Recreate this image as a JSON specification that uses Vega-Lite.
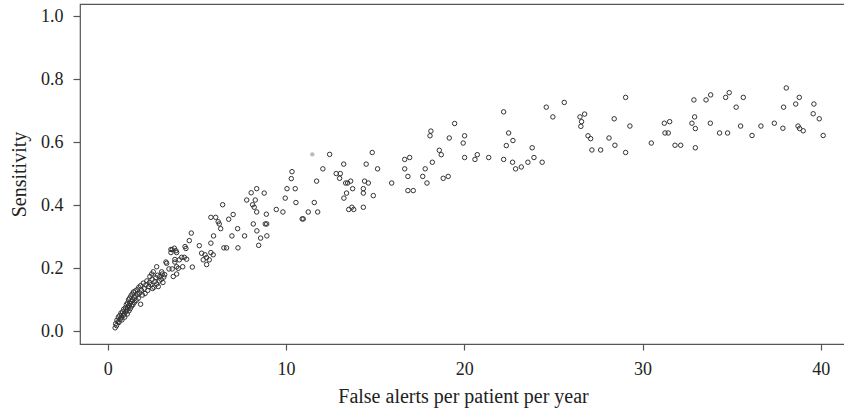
{
  "$schema": "https://vega.github.io/schema/vega-lite/v6.json",
  "width": 766,
  "height": 340,
  "autosize": {"type": "none"},
  "padding": {"left": 80, "top": 4, "right": 0, "bottom": 65},
  "background": "white",
  "config": {"view": {"stroke": "#555", "strokeWidth": 1.2}, "font": "Liberation Serif"},
  "data": {"values": [
    {"x":0.42,"y":0.011,"g":"a"},{"x":0.45,"y":0.024,"g":"a"},{"x":0.5,"y":0.018,"g":"a"},{"x":0.52,"y":0.035,"g":"a"},{"x":0.58,"y":0.03,"g":"a"},{"x":0.6,"y":0.045,"g":"a"},{"x":0.63,"y":0.028,"g":"a"},{"x":0.68,"y":0.05,"g":"a"},{"x":0.7,"y":0.038,"g":"a"},{"x":0.75,"y":0.058,"g":"a"},{"x":0.77,"y":0.044,"g":"a"},{"x":0.8,"y":0.036,"g":"a"},{"x":0.84,"y":0.062,"g":"a"},{"x":0.87,"y":0.05,"g":"a"},{"x":0.9,"y":0.07,"g":"a"},{"x":0.93,"y":0.055,"g":"a"},{"x":0.96,"y":0.045,"g":"a"},{"x":1.0,"y":0.075,"g":"a"},{"x":1.02,"y":0.062,"g":"a"},{"x":1.05,"y":0.085,"g":"a"},{"x":1.07,"y":0.068,"g":"a"},{"x":1.1,"y":0.055,"g":"a"},{"x":1.12,"y":0.09,"g":"a"},{"x":1.14,"y":0.075,"g":"a"},{"x":1.17,"y":0.1,"g":"a"},{"x":1.19,"y":0.082,"g":"a"},{"x":1.2,"y":0.065,"g":"a"},{"x":1.23,"y":0.105,"g":"a"},{"x":1.25,"y":0.088,"g":"a"},{"x":1.27,"y":0.072,"g":"a"},{"x":1.3,"y":0.112,"g":"a"},{"x":1.32,"y":0.095,"g":"a"},{"x":1.35,"y":0.08,"g":"a"},{"x":1.37,"y":0.118,"g":"a"},{"x":1.4,"y":0.1,"g":"a"},{"x":1.42,"y":0.085,"g":"a"},{"x":1.45,"y":0.125,"g":"a"},{"x":1.48,"y":0.108,"g":"a"},{"x":1.5,"y":0.092,"g":"a"},{"x":1.55,"y":0.128,"g":"a"},{"x":1.58,"y":0.112,"g":"a"},{"x":1.6,"y":0.098,"g":"a"},{"x":1.65,"y":0.132,"g":"a"},{"x":1.68,"y":0.118,"g":"a"},{"x":1.72,"y":0.105,"g":"a"},{"x":1.75,"y":0.14,"g":"a"},{"x":1.8,"y":0.122,"g":"a"},{"x":1.85,"y":0.086,"g":"a"},{"x":1.85,"y":0.145,"g":"a"},{"x":1.9,"y":0.13,"g":"a"},{"x":1.95,"y":0.115,"g":"a"},{"x":2.0,"y":0.153,"g":"a"},{"x":2.05,"y":0.135,"g":"a"},{"x":2.1,"y":0.12,"g":"a"},{"x":2.15,"y":0.148,"g":"a"},{"x":2.2,"y":0.16,"g":"a"},{"x":2.25,"y":0.13,"g":"a"},{"x":2.3,"y":0.142,"g":"a"},{"x":2.35,"y":0.155,"g":"a"},{"x":2.37,"y":0.174,"g":"a"},{"x":2.42,"y":0.148,"g":"a"},{"x":2.47,"y":0.182,"g":"a"},{"x":2.5,"y":0.165,"g":"a"},{"x":2.52,"y":0.136,"g":"a"},{"x":2.56,"y":0.189,"g":"a"},{"x":2.6,"y":0.14,"g":"a"},{"x":2.65,"y":0.158,"g":"a"},{"x":2.7,"y":0.17,"g":"a"},{"x":2.75,"y":0.15,"g":"a"},{"x":2.75,"y":0.205,"g":"a"},{"x":2.8,"y":0.178,"g":"a"},{"x":2.84,"y":0.142,"g":"a"},{"x":2.9,"y":0.16,"g":"a"},{"x":2.93,"y":0.174,"g":"a"},{"x":3.0,"y":0.165,"g":"a"},{"x":3.03,"y":0.189,"g":"a"},{"x":3.06,"y":0.182,"g":"a"},{"x":3.1,"y":0.155,"g":"a"},{"x":3.15,"y":0.172,"g":"a"},{"x":3.2,"y":0.18,"g":"a"},{"x":3.27,"y":0.22,"g":"a"},{"x":3.31,"y":0.216,"g":"a"},{"x":3.44,"y":0.198,"g":"a"},{"x":3.55,"y":0.25,"g":"a"},{"x":3.55,"y":0.26,"g":"a"},{"x":3.62,"y":0.259,"g":"a"},{"x":3.62,"y":0.198,"g":"a"},{"x":3.68,"y":0.174,"g":"a"},{"x":3.74,"y":0.264,"g":"a"},{"x":3.77,"y":0.228,"g":"a"},{"x":3.77,"y":0.22,"g":"a"},{"x":3.83,"y":0.256,"g":"a"},{"x":3.87,"y":0.25,"g":"a"},{"x":3.87,"y":0.205,"g":"a"},{"x":3.87,"y":0.182,"g":"a"},{"x":3.96,"y":0.2,"g":"a"},{"x":4.02,"y":0.227,"g":"a"},{"x":4.15,"y":0.235,"g":"a"},{"x":4.21,"y":0.205,"g":"a"},{"x":4.3,"y":0.235,"g":"a"},{"x":4.34,"y":0.269,"g":"a"},{"x":4.39,"y":0.263,"g":"a"},{"x":4.43,"y":0.229,"g":"a"},{"x":4.58,"y":0.288,"g":"a"},{"x":4.69,"y":0.312,"g":"a"},{"x":4.75,"y":0.204,"g":"a"},
    {"x":5.14,"y":0.272,"g":"a"},{"x":5.27,"y":0.248,"g":"a"},{"x":5.36,"y":0.227,"g":"a"},{"x":5.46,"y":0.243,"g":"a"},{"x":5.55,"y":0.234,"g":"a"},{"x":5.55,"y":0.212,"g":"a"},{"x":5.7,"y":0.227,"g":"a"},{"x":5.79,"y":0.25,"g":"a"},{"x":5.92,"y":0.243,"g":"a"},{"x":5.79,"y":0.28,"g":"a"},{"x":5.94,"y":0.303,"g":"a"},{"x":5.79,"y":0.362,"g":"a"},{"x":6.06,"y":0.362,"g":"a"},{"x":6.2,"y":0.348,"g":"a"},{"x":6.26,"y":0.341,"g":"a"},{"x":6.34,"y":0.326,"g":"a"},{"x":6.45,"y":0.402,"g":"a"},{"x":6.52,"y":0.265,"g":"a"},{"x":6.67,"y":0.265,"g":"a"},{"x":6.79,"y":0.356,"g":"a"},{"x":6.97,"y":0.303,"g":"a"},{"x":7.04,"y":0.371,"g":"a"},{"x":7.29,"y":0.326,"g":"a"},{"x":7.31,"y":0.265,"g":"a"},{"x":7.68,"y":0.303,"g":"a"},{"x":7.8,"y":0.417,"g":"a"},{"x":8.05,"y":0.44,"g":"a"},{"x":8.13,"y":0.402,"g":"a"},{"x":8.17,"y":0.341,"g":"a"},{"x":8.22,"y":0.394,"g":"a"},{"x":8.28,"y":0.417,"g":"a"},{"x":8.36,"y":0.453,"g":"a"},{"x":8.36,"y":0.379,"g":"a"},{"x":8.37,"y":0.319,"g":"a"},{"x":8.47,"y":0.273,"g":"a"},{"x":8.58,"y":0.296,"g":"a"},{"x":8.78,"y":0.439,"g":"a"},{"x":8.84,"y":0.341,"g":"a"},{"x":8.92,"y":0.341,"g":"a"},{"x":8.9,"y":0.372,"g":"a"},{"x":8.93,"y":0.303,"g":"a"},
    {"x":9.46,"y":0.387,"g":"a"},{"x":9.83,"y":0.379,"g":"a"},{"x":9.96,"y":0.423,"g":"a"},{"x":10.06,"y":0.453,"g":"a"},{"x":10.3,"y":0.485,"g":"a"},{"x":10.34,"y":0.507,"g":"a"},{"x":10.52,"y":0.453,"g":"a"},{"x":10.56,"y":0.409,"g":"a"},{"x":10.91,"y":0.357,"g":"a"},{"x":10.97,"y":0.357,"g":"a"},{"x":11.25,"y":0.379,"g":"a"},{"x":11.59,"y":0.409,"g":"a"},{"x":11.72,"y":0.477,"g":"a"},{"x":11.78,"y":0.379,"g":"a"},{"x":12.07,"y":0.516,"g":"a"},{"x":12.45,"y":0.562,"g":"a"},{"x":12.82,"y":0.501,"g":"a"},{"x":13.01,"y":0.486,"g":"a"},{"x":13.05,"y":0.501,"g":"a"},{"x":13.24,"y":0.531,"g":"a"},{"x":13.25,"y":0.423,"g":"a"},{"x":13.35,"y":0.471,"g":"a"},{"x":13.4,"y":0.439,"g":"a"},{"x":13.46,"y":0.471,"g":"a"},{"x":13.52,"y":0.387,"g":"a"},{"x":13.63,"y":0.477,"g":"a"},{"x":13.7,"y":0.394,"g":"a"},{"x":13.74,"y":0.453,"g":"a"},{"x":13.8,"y":0.387,"g":"a"},{"x":14.34,"y":0.453,"g":"a"},{"x":14.34,"y":0.439,"g":"a"},{"x":14.34,"y":0.394,"g":"a"},{"x":14.41,"y":0.477,"g":"a"},{"x":14.5,"y":0.531,"g":"a"},{"x":14.62,"y":0.471,"g":"a"},{"x":14.84,"y":0.568,"g":"a"},{"x":14.9,"y":0.431,"g":"a"},{"x":15.14,"y":0.516,"g":"a"},
    {"x":15.93,"y":0.471,"g":"a"},{"x":16.84,"y":0.447,"g":"a"},{"x":17.14,"y":0.447,"g":"a"},{"x":16.66,"y":0.546,"g":"a"},{"x":16.94,"y":0.552,"g":"a"},{"x":16.66,"y":0.516,"g":"a"},{"x":16.84,"y":0.492,"g":"a"},{"x":17.67,"y":0.492,"g":"a"},{"x":17.81,"y":0.516,"g":"a"},{"x":17.91,"y":0.471,"g":"a"},{"x":18.21,"y":0.537,"g":"a"},{"x":18.08,"y":0.621,"g":"a"},{"x":18.13,"y":0.636,"g":"a"},{"x":18.6,"y":0.575,"g":"a"},{"x":18.71,"y":0.561,"g":"a"},{"x":18.82,"y":0.486,"g":"a"},{"x":19.1,"y":0.492,"g":"a"},{"x":19.16,"y":0.614,"g":"a"},{"x":19.46,"y":0.66,"g":"a"},{"x":19.94,"y":0.598,"g":"a"},{"x":20.02,"y":0.621,"g":"a"},{"x":20.02,"y":0.552,"g":"a"},{"x":20.6,"y":0.546,"g":"a"},{"x":20.73,"y":0.561,"g":"a"},{"x":21.37,"y":0.552,"g":"a"},{"x":22.21,"y":0.697,"g":"a"},{"x":22.21,"y":0.546,"g":"a"},{"x":22.49,"y":0.63,"g":"a"},{"x":22.36,"y":0.59,"g":"a"},{"x":22.73,"y":0.606,"g":"a"},{"x":22.71,"y":0.537,"g":"a"},{"x":22.88,"y":0.516,"g":"a"},{"x":23.2,"y":0.522,"g":"a"},{"x":23.57,"y":0.537,"g":"a"},{"x":23.81,"y":0.583,"g":"a"},{"x":23.91,"y":0.552,"g":"a"},{"x":24.37,"y":0.537,"g":"a"},{"x":24.6,"y":0.712,"g":"a"},{"x":24.97,"y":0.681,"g":"a"},{"x":25.61,"y":0.727,"g":"a"},{"x":26.49,"y":0.681,"g":"a"},{"x":26.75,"y":0.69,"g":"a"},{"x":26.58,"y":0.666,"g":"a"},{"x":26.54,"y":0.651,"g":"a"},{"x":26.94,"y":0.621,"g":"a"},{"x":27.09,"y":0.612,"g":"a"},{"x":27.16,"y":0.576,"g":"a"},
    {"x":27.65,"y":0.576,"g":"a"},{"x":29.05,"y":0.743,"g":"a"},{"x":28.41,"y":0.675,"g":"a"},{"x":29.29,"y":0.652,"g":"a"},{"x":28.12,"y":0.614,"g":"a"},{"x":28.45,"y":0.591,"g":"a"},{"x":29.05,"y":0.568,"g":"a"},{"x":30.49,"y":0.598,"g":"a"},{"x":31.22,"y":0.661,"g":"a"},{"x":31.52,"y":0.666,"g":"a"},{"x":31.26,"y":0.63,"g":"a"},{"x":31.44,"y":0.63,"g":"a"},{"x":31.82,"y":0.591,"g":"a"},{"x":32.14,"y":0.591,"g":"a"},{"x":32.88,"y":0.735,"g":"a"},{"x":32.92,"y":0.681,"g":"a"},{"x":32.77,"y":0.661,"g":"a"},{"x":32.96,"y":0.644,"g":"a"},{"x":32.96,"y":0.583,"g":"a"},{"x":33.56,"y":0.735,"g":"a"},{"x":33.82,"y":0.751,"g":"a"},{"x":33.8,"y":0.661,"g":"a"},{"x":34.32,"y":0.63,"g":"a"},{"x":34.77,"y":0.63,"g":"a"},{"x":34.66,"y":0.743,"g":"a"},{"x":34.86,"y":0.758,"g":"a"},{"x":35.25,"y":0.712,"g":"a"},{"x":35.65,"y":0.743,"g":"a"},{"x":35.5,"y":0.652,"g":"a"},{"x":36.14,"y":0.622,"g":"a"},{"x":36.64,"y":0.652,"g":"a"},{"x":37.39,"y":0.661,"g":"a"},{"x":37.87,"y":0.645,"g":"a"},{"x":38.06,"y":0.773,"g":"a"},{"x":37.91,"y":0.712,"g":"a"},{"x":38.59,"y":0.722,"g":"a"},{"x":38.79,"y":0.743,"g":"a"},{"x":38.72,"y":0.652,"g":"a"},{"x":38.81,"y":0.644,"g":"a"},{"x":39.01,"y":0.637,"g":"a"},{"x":39.61,"y":0.722,"g":"a"},{"x":39.57,"y":0.691,"g":"a"},{"x":39.91,"y":0.675,"g":"a"},{"x":40.13,"y":0.622,"g":"a"},
    {"x":11.48,"y":0.562,"g":"b"}
  ]},
  "encoding": {
    "x": {"field": "x", "type": "quantitative",
      "scale": {"domain": [-1.55, 41.41], "nice": false, "zero": false},
      "axis": {"title": "False alerts per patient per year", "values": [0, 10, 20, 30, 40], "grid": false, "domain": false,
        "tickSize": 6, "tickColor": "#555", "tickWidth": 1.2, "labelFontSize": 18, "labelColor": "#222", "labelPadding": 10,
        "labelFont": "Liberation Serif", "titleFont": "Liberation Serif", "titleFontSize": 20, "titleFontWeight": "normal",
        "titleColor": "#222", "titleY": 58, "titleBaseline": "alphabetic"}},
    "y": {"field": "y", "type": "quantitative",
      "scale": {"domain": [-0.0404, 1.0397], "nice": false, "zero": false},
      "axis": {"title": "Sensitivity", "values": [0, 0.2, 0.4, 0.6, 0.8, 1.0], "format": ".1f", "grid": false, "domain": false,
        "tickSize": 7, "tickColor": "#555", "tickWidth": 1.2, "labelFontSize": 18, "labelColor": "#222", "labelPadding": 10,
        "labelFont": "Liberation Serif", "titleFont": "Liberation Serif", "titleFontSize": 20, "titleFontWeight": "normal",
        "titleColor": "#222", "titleX": -55, "titleY": 170, "titleAlign": "center", "titleBaseline": "alphabetic", "titleAngle": -90}}
  },
  "layer": [
    {"transform": [{"filter": "datum.g === 'a'"}],
     "mark": {"type": "point", "shape": "circle", "filled": false, "stroke": "#333", "strokeWidth": 1, "size": 20, "opacity": 1}},
    {"transform": [{"filter": "datum.g === 'b'"}],
     "mark": {"type": "point", "shape": "circle", "filled": true, "fill": "#bbb", "size": 20, "opacity": 1}}
  ]
}
